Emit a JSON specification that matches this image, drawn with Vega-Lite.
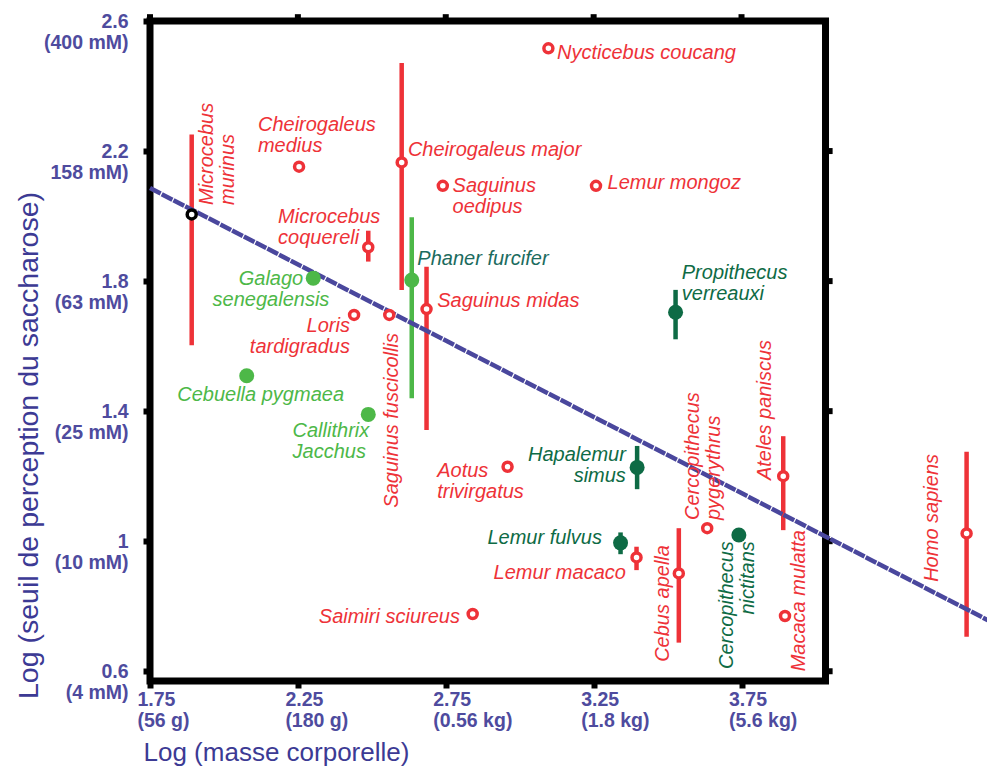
{
  "$schema": "https://vega.github.io/schema/vega-lite/v6.json",
  "width": 837,
  "height": 660,
  "autosize": {"type": "none"},
  "padding": {"left": 150, "top": 21, "right": 0, "bottom": 91},
  "background": "white",
  "config": {"font": "Liberation Sans", "view": {"stroke": null}},
  "datasets": {
    "pts": [
      {"name": "Nycticebus coucang", "x": 3.097, "y": 2.516, "kind": "red"},
      {"name": "Cheirogaleus medius", "x": 2.254, "y": 2.152, "kind": "red"},
      {"name": "Cheirogaleus major", "x": 2.601, "y": 2.165, "kind": "red"},
      {"name": "Saguinus oedipus", "x": 2.740, "y": 2.093, "kind": "red"},
      {"name": "Lemur mongoz", "x": 3.258, "y": 2.093, "kind": "red"},
      {"name": "Microcebus murinus", "x": 1.891, "y": 2.005, "kind": "black"},
      {"name": "Microcebus coquereli", "x": 2.488, "y": 1.904, "kind": "red"},
      {"name": "Galago senegalensis", "x": 2.302, "y": 1.809, "kind": "green"},
      {"name": "Loris tardigradus", "x": 2.440, "y": 1.696, "kind": "red"},
      {"name": "Saguinus fuscicollis", "x": 2.559, "y": 1.696, "kind": "red"},
      {"name": "Phaner furcifer", "x": 2.635, "y": 1.803, "kind": "green"},
      {"name": "Saguinus midas", "x": 2.685, "y": 1.714, "kind": "red"},
      {"name": "Cebuella pygmaea", "x": 2.077, "y": 1.509, "kind": "green"},
      {"name": "Callithrix Jacchus", "x": 2.488, "y": 1.390, "kind": "green"},
      {"name": "Aotus trivirgatus", "x": 2.959, "y": 1.229, "kind": "red"},
      {"name": "Hapalemur simus", "x": 3.397, "y": 1.227, "kind": "dark"},
      {"name": "Lemur fulvus", "x": 3.341, "y": 0.995, "kind": "dark"},
      {"name": "Lemur macaco", "x": 3.395, "y": 0.950, "kind": "red"},
      {"name": "Saimiri sciureus", "x": 2.841, "y": 0.776, "kind": "red"},
      {"name": "Cebus apella", "x": 3.538, "y": 0.901, "kind": "red"},
      {"name": "Cercopithecus pygerythrus", "x": 3.634, "y": 1.040, "kind": "red"},
      {"name": "Cercopithecus nictitans", "x": 3.741, "y": 1.019, "kind": "dark"},
      {"name": "Ateles paniscus", "x": 3.891, "y": 1.200, "kind": "red"},
      {"name": "Macaca mulatta", "x": 3.897, "y": 0.770, "kind": "red"},
      {"name": "Homo sapiens", "x": 4.511, "y": 1.024, "kind": "red"},
      {"name": "Propithecus verreauxi", "x": 3.527, "y": 1.704, "kind": "dark"}
    ],
    "bars": [
      {"name": "Microcebus murinus", "x": 1.891, "y": 1.603, "y2": 2.251, "kind": "red"},
      {"name": "Cheirogaleus major", "x": 2.601, "y": 1.773, "y2": 2.471, "kind": "red"},
      {"name": "Microcebus coquereli", "x": 2.488, "y": 1.860, "y2": 1.955, "kind": "red"},
      {"name": "Phaner furcifer", "x": 2.635, "y": 1.440, "y2": 1.996, "kind": "green"},
      {"name": "Saguinus midas", "x": 2.685, "y": 1.342, "y2": 1.844, "kind": "red"},
      {"name": "Hapalemur simus", "x": 3.397, "y": 1.160, "y2": 1.293, "kind": "dark"},
      {"name": "Lemur fulvus", "x": 3.341, "y": 0.960, "y2": 1.027, "kind": "dark"},
      {"name": "Lemur macaco", "x": 3.395, "y": 0.911, "y2": 0.983, "kind": "red"},
      {"name": "Cebus apella", "x": 3.538, "y": 0.688, "y2": 1.040, "kind": "red"},
      {"name": "Ateles paniscus", "x": 3.891, "y": 1.034, "y2": 1.323, "kind": "red"},
      {"name": "Homo sapiens", "x": 4.511, "y": 0.706, "y2": 1.275, "kind": "red"},
      {"name": "Propithecus verreauxi", "x": 3.527, "y": 1.621, "y2": 1.773, "kind": "dark"}
    ],
    "labels": [
      {"text": "Nycticebus coucang", "x": 3.126, "y": 2.502, "kind": "red", "pos": "left"},
      {"text": "Cheirogaleus\nmedius", "x": 2.115, "y": 2.280, "kind": "red", "pos": "left"},
      {"text": "Cheirogaleus major", "x": 2.622, "y": 2.203, "kind": "red", "pos": "left"},
      {"text": "Saguinus\noedipus", "x": 2.773, "y": 2.093, "kind": "red", "pos": "left"},
      {"text": "Lemur mongoz", "x": 3.297, "y": 2.102, "kind": "red", "pos": "left"},
      {"text": "Microcebus\ncoquereli", "x": 2.183, "y": 1.998, "kind": "red", "pos": "left"},
      {"text": "Galago\nsenegalensis", "x": 2.159, "y": 1.806, "kind": "green", "pos": "center"},
      {"text": "Loris\ntardigradus", "x": 2.426, "y": 1.662, "kind": "red", "pos": "right"},
      {"text": "Phaner furcifer", "x": 2.654, "y": 1.867, "kind": "teal", "pos": "left"},
      {"text": "Saguinus midas", "x": 2.721, "y": 1.739, "kind": "red", "pos": "left"},
      {"text": "Cebuella pygmaea", "x": 2.124, "y": 1.450, "kind": "green", "pos": "center"},
      {"text": "Callithrix\nJacchus", "x": 2.232, "y": 1.339, "kind": "green", "pos": "left"},
      {"text": "Aotus\ntrivirgatus", "x": 2.721, "y": 1.217, "kind": "red", "pos": "left"},
      {"text": "Hapalemur\nsimus", "x": 3.359, "y": 1.265, "kind": "dark", "pos": "right"},
      {"text": "Lemur fulvus", "x": 3.278, "y": 1.011, "kind": "dark", "pos": "right"},
      {"text": "Lemur macaco", "x": 3.359, "y": 0.903, "kind": "red", "pos": "right"},
      {"text": "Saimiri sciureus", "x": 2.798, "y": 0.768, "kind": "red", "pos": "right"},
      {"text": "Propithecus\nverreauxi", "x": 3.548, "y": 1.824, "kind": "dark", "pos": "left"},
      {"text": "Microcebus\nmurinus", "x": 1.942, "y": 2.034, "kind": "red", "pos": "vleft"},
      {"text": "Saguinus fuscicollis", "x": 2.567, "y": 1.640, "kind": "red", "pos": "vright"},
      {"text": "Cebus apella", "x": 3.483, "y": 0.988, "kind": "red", "pos": "vright"},
      {"text": "Cercopithecus\npygerythrus", "x": 3.587, "y": 1.065, "kind": "red", "pos": "vleft"},
      {"text": "Cercopithecus\nnictitans", "x": 3.700, "y": 1.000, "kind": "dark", "pos": "vright"},
      {"text": "Ateles paniscus", "x": 3.829, "y": 1.188, "kind": "red", "pos": "vleft"},
      {"text": "Macaca mulatta", "x": 3.944, "y": 1.034, "kind": "red", "pos": "vright"},
      {"text": "Homo sapiens", "x": 4.393, "y": 0.875, "kind": "red", "pos": "vleft"}
    ],
    "fit": [
      {"x": 1.75, "y": 2.086},
      {"x": 4.583, "y": 0.757}
    ],
    "frame": [{"x": 1.75, "y": 0.57}],
    "topticks": [{"x": 1.75, "y": 2.6}, {"x": 2.25, "y": 2.6}, {"x": 2.75, "y": 2.6}, {"x": 3.25, "y": 2.6}, {"x": 3.75, "y": 2.6}],
    "rightticks": [{"x": 4.034, "y": 0.6}, {"x": 4.034, "y": 1.0}, {"x": 4.034, "y": 1.4}, {"x": 4.034, "y": 1.8}, {"x": 4.034, "y": 2.2}]
  },
  "encoding": {
    "x": {
      "field": "x", "type": "quantitative",
      "scale": {"domain": [1.75, 4.58], "nice": false, "zero": false},
      "axis": {
        "values": [1.75, 2.25, 2.75, 3.25, 3.75],
        "domain": false, "grid": false,
        "ticks": true, "tickSize": 7, "tickWidth": 6, "tickColor": "black",
        "labelExpr": "datum.value < 2 ? ['1.75','(56 g)'] : datum.value < 2.5 ? ['2.25','(180 g)'] : datum.value < 3 ? ['2.75','(0.56 kg)'] : datum.value < 3.5 ? ['3.25','(1.8 kg)'] : ['3.75','(5.6 kg)']",
        "labelFont": "Liberation Sans", "labelFontWeight": "bold", "labelFontSize": 19.5,
        "labelColor": "#4E4B9E", "labelAlign": "left", "labelBaseline": "top",
        "labelOffset": -13, "labelPadding": 2, "labelLineHeight": 21,
        "labelFlush": false, "labelOverlap": false,
        "title": "Log (masse corporelle)",
        "titleFont": "Liberation Sans", "titleFontSize": 26, "titleFontWeight": "normal",
        "titleColor": "#3C3A94", "titleAlign": "left", "titleBaseline": "middle",
        "titleX": -7, "titleY": 71
      }
    },
    "y": {
      "field": "y", "type": "quantitative",
      "scale": {"domain": [0.57, 2.6], "nice": false, "zero": false},
      "axis": {
        "values": [0.6, 1.0, 1.4, 1.8, 2.2, 2.6],
        "domain": false, "grid": false,
        "ticks": true, "tickSize": 7, "tickWidth": 6, "tickColor": "black",
        "labelExpr": "datum.value < 0.8 ? ['0.6','(4 mM)'] : datum.value < 1.2 ? ['1','(10 mM)'] : datum.value < 1.6 ? ['1.4','(25 mM)'] : datum.value < 2 ? ['1.8','(63 mM)'] : datum.value < 2.4 ? ['2.2','158 mM)'] : ['2.6','(400 mM)']",
        "labelFont": "Liberation Sans", "labelFontWeight": "bold", "labelFontSize": 19.5,
        "labelColor": "#4E4B9E", "labelAlign": "right", "labelBaseline": "middle",
        "labelPadding": 15, "labelLineHeight": 21,
        "labelFlush": false, "labelOverlap": false,
        "title": "Log (seuil de perception du saccharose)",
        "titleFont": "Liberation Sans", "titleFontSize": 28.5, "titleFontWeight": "normal",
        "titleColor": "#3C3A94", "titleAngle": -90, "titleAlign": "center", "titleBaseline": "middle",
        "titleX": -122, "titleY": 424
      }
    }
  },
  "layer": [
    {
      "data": {"name": "frame"},
      "mark": {"type": "rect", "filled": false, "stroke": "black", "strokeWidth": 7},
      "encoding": {
        "x2": {"datum": 4.034},
        "y2": {"datum": 2.6}
      }
    },
    {
      "data": {"name": "topticks"},
      "mark": {"type": "rule", "color": "black", "strokeWidth": 6},
      "encoding": {
        "y2": {"datum": 2.621}
      }
    },
    {
      "data": {"name": "rightticks"},
      "mark": {"type": "rule", "color": "black", "strokeWidth": 6},
      "encoding": {
        "x2": {"datum": 4.058}
      }
    },
    {
      "data": {"name": "bars"},
      "mark": {"type": "rule", "strokeWidth": 4.5},
      "encoding": {
        "y2": {"field": "y2"},
        "color": {"field": "kind", "type": "nominal", "legend": null,
          "scale": {"domain": ["red", "green", "dark", "black", "teal"], "range": ["#EE3238", "#4DB848", "#0E6B45", "#000000", "#1B6B5E"]}}
      }
    },
    {
      "data": {"name": "fit"},
      "mark": {"type": "line", "color": "#4A479D", "strokeWidth": 4.5, "strokeDash": [12, 1.2]},
      "encoding": {}
    },
    {
      "data": {"name": "pts"},
      "transform": [{"filter": "datum.kind == 'red' || datum.kind == 'black'"}],
      "mark": {"type": "point", "shape": "circle", "filled": true, "fill": "white", "size": 81, "strokeWidth": 3.5, "opacity": 1},
      "encoding": {
        "stroke": {"field": "kind", "type": "nominal", "legend": null,
          "scale": {"domain": ["red", "green", "dark", "black", "teal"], "range": ["#EE3238", "#4DB848", "#0E6B45", "#000000", "#1B6B5E"]}}
      }
    },
    {
      "data": {"name": "pts"},
      "transform": [{"filter": "datum.kind == 'green' || datum.kind == 'dark'"}],
      "mark": {"type": "point", "shape": "circle", "filled": true, "size": 225, "opacity": 1},
      "encoding": {
        "color": {"field": "kind", "type": "nominal", "legend": null}
      }
    },
    {
      "data": {"name": "labels"},
      "transform": [{"filter": "datum.pos == 'left'"}],
      "mark": {"type": "text", "align": "left", "baseline": "middle", "font": "Liberation Sans", "fontStyle": "italic", "fontSize": 20, "lineHeight": 21, "lineBreak": "\n"},
      "encoding": {
        "text": {"field": "text"},
        "color": {"field": "kind", "type": "nominal", "legend": null}
      }
    },
    {
      "data": {"name": "labels"},
      "transform": [{"filter": "datum.pos == 'right'"}],
      "mark": {"type": "text", "align": "right", "baseline": "middle", "font": "Liberation Sans", "fontStyle": "italic", "fontSize": 20, "lineHeight": 21, "lineBreak": "\n"},
      "encoding": {
        "text": {"field": "text"},
        "color": {"field": "kind", "type": "nominal", "legend": null}
      }
    },
    {
      "data": {"name": "labels"},
      "transform": [{"filter": "datum.pos == 'center'"}],
      "mark": {"type": "text", "align": "center", "baseline": "middle", "font": "Liberation Sans", "fontStyle": "italic", "fontSize": 20, "lineHeight": 21, "lineBreak": "\n"},
      "encoding": {
        "text": {"field": "text"},
        "color": {"field": "kind", "type": "nominal", "legend": null}
      }
    },
    {
      "data": {"name": "labels"},
      "transform": [{"filter": "datum.pos == 'vleft'"}],
      "mark": {"type": "text", "align": "left", "baseline": "middle", "angle": -90, "font": "Liberation Sans", "fontStyle": "italic", "fontSize": 20, "lineHeight": 21, "lineBreak": "\n"},
      "encoding": {
        "text": {"field": "text"},
        "color": {"field": "kind", "type": "nominal", "legend": null}
      }
    },
    {
      "data": {"name": "labels"},
      "transform": [{"filter": "datum.pos == 'vright'"}],
      "mark": {"type": "text", "align": "right", "baseline": "middle", "angle": -90, "font": "Liberation Sans", "fontStyle": "italic", "fontSize": 20, "lineHeight": 21, "lineBreak": "\n"},
      "encoding": {
        "text": {"field": "text"},
        "color": {"field": "kind", "type": "nominal", "legend": null}
      }
    }
  ]
}
